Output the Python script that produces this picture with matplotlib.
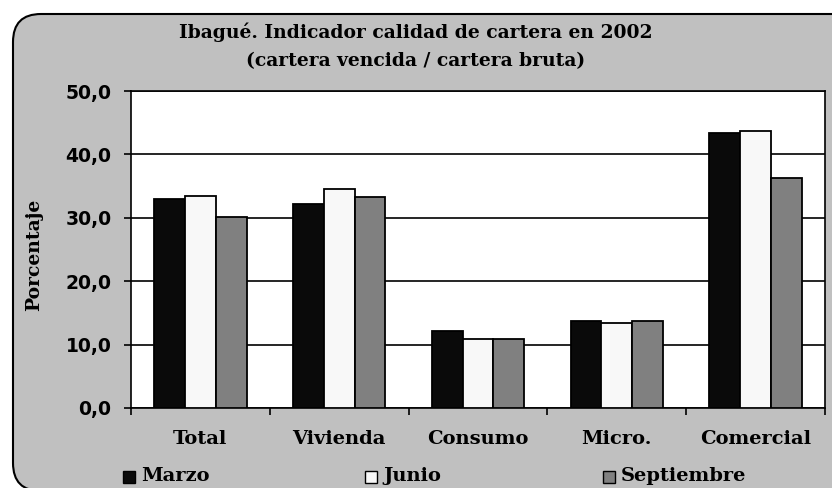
import numpy as np
import matplotlib.pyplot as plt
from matplotlib.patches import FancyBboxPatch, Rectangle

categorias = ['Total', 'Vivienda', 'Consumo', 'Micro.', 'Comercial']
marzo = [33.0, 32.1, 12.1, 13.7, 43.4]
junio = [33.5, 34.5, 10.9, 13.4, 43.7]
septiembre = [30.2, 33.3, 10.9, 13.7, 36.3]
series = ['Marzo', 'Junio', 'Septiembre']
colores = ['#0a0a0a', '#f8f8f8', '#808080']

fig = plt.figure(figsize=(8.32, 4.88), dpi=100)
fig.patch.set_facecolor('white')

# gray rounded frame behind everything (inches)
fondo = FancyBboxPatch((0.13, -0.03), 8.6, 4.77,
                       boxstyle='round,pad=0,rounding_size=0.28',
                       transform=fig.dpi_scale_trans, facecolor='#c0c0c0',
                       edgecolor='black', linewidth=1.5, zorder=-5)
fig.patches.append(fondo)

ax = fig.add_axes([131 / 832, 1 - 408 / 488, 694 / 832, 317 / 488])
ax.set_zorder(2)
ax.set_facecolor('white')

x = np.arange(len(categorias))
w = 1 / 4.5
for i, (vals, c) in enumerate(zip([marzo, junio, septiembre], colores)):
    ax.bar(x + (i - 1) * w, vals, width=w, color=c, edgecolor='black',
           linewidth=1.3, zorder=3)

ax.set_xlim(-0.5, len(categorias) - 0.5)
ax.set_ylim(0, 50)
ax.set_yticks(np.arange(0, 51, 10))
ax.set_yticklabels([f'{v:.1f}'.replace('.', ',') for v in np.arange(0, 51, 10)],
                   fontsize=13.5, fontweight='bold', family='DejaVu Sans')
ax.yaxis.grid(True, color='black', linewidth=1.2, zorder=1)
ax.set_axisbelow(True)
ax.set_xticks(np.arange(-0.5, len(categorias), 1))
ax.set_xticklabels([])
ax.tick_params(axis='both', direction='out', length=5, width=1.2, color='black')
ax.tick_params(axis='y', pad=9)
for i, cat in enumerate(categorias):
    ax.text(i, -4.9, cat, ha='center', va='center', fontsize=14,
            fontweight='bold', family='DejaVu Serif')
for s in ax.spines.values():
    s.set_linewidth(1.2)

fig.text(34 / 832, 1 - 255 / 488, 'Porcentaje', rotation=90, ha='center', va='center',
         fontsize=13.5, fontweight='bold', family='DejaVu Serif')

fig.text(0.5, 1 - 32 / 488, 'Ibagué. Indicador calidad de cartera en 2002',
         ha='center', va='center', fontsize=13.5, fontweight='bold', family='DejaVu Serif')
fig.text(0.5, 1 - 61 / 488, '(cartera vencida / cartera bruta)',
         ha='center', va='center', fontsize=13.5, fontweight='bold', family='DejaVu Serif')

# legend
leg_x = [123, 365, 603]
for lx, nombre, c in zip(leg_x, series, colores):
    fig.patches.append(Rectangle((lx / 832, 1 - 483 / 488), 12 / 832, 12 / 488,
                                 transform=fig.transFigure, facecolor=c,
                                 edgecolor='black', linewidth=1, zorder=1))
    fig.text((lx + 18) / 832, 1 - 476 / 488, nombre, ha='left', va='center',
             fontsize=14, fontweight='bold', family='DejaVu Serif')

fig.savefig('out.png', dpi=100)
